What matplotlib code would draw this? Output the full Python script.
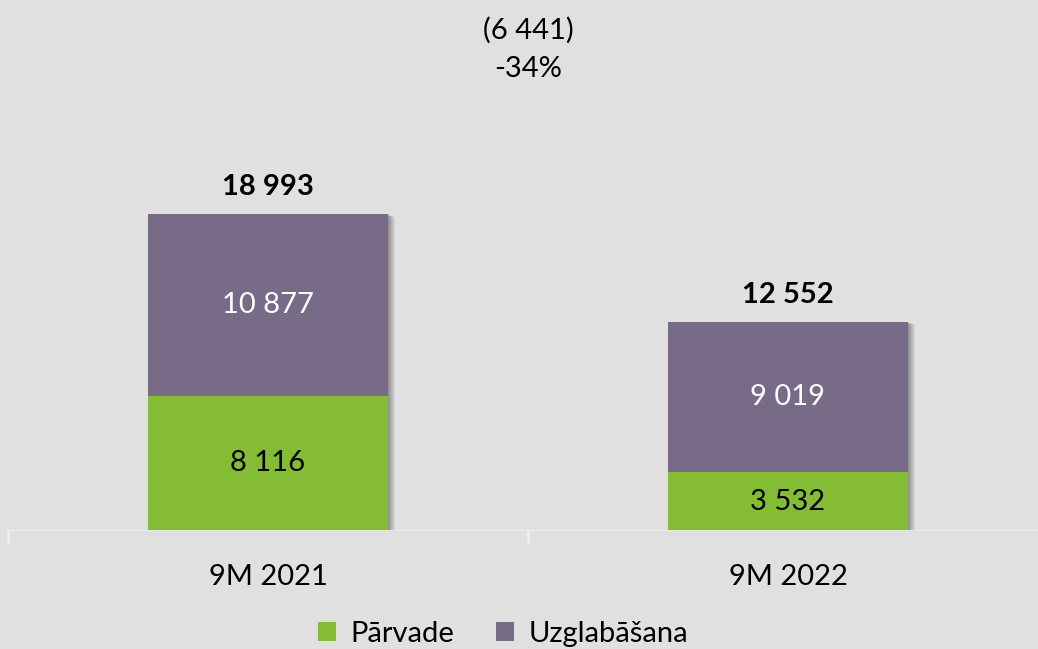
import matplotlib
matplotlib.use("Agg")
import matplotlib.pyplot as plt
from matplotlib.patches import Rectangle
import matplotlib.transforms as mtransforms
import numpy as np

categories = ["9M 2021", "9M 2022"]
parvade = [8116, 3532]
uzglabasana = [10877, 9019]
totals = [18993, 12552]
series_names = ["Pārvade", "Uzglabāšana"]
change_abs = "(6 441)"
change_pct = "-34%"

def fmt(v):
    return f"{v:,}".replace(",", " ")

plt.rcParams['font.family'] = ['Lato', 'DejaVu Sans']
W, H = 1038, 649
fig = plt.figure(figsize=(W/100, H/100), dpi=100)
bg = "#e0e0e0"
fig.patch.set_facecolor(bg)

ax = fig.add_axes([8/W, (H-531)/H, 1040/W, 531/H])
ax.set_facecolor(bg)
ax.patch.set_alpha(0)
x = np.arange(len(categories))
ax.set_xlim(-0.5, 1.5)
ax.set_ylim(0, 531/0.01669)

green = "#84bd35"
purple = "#776b87"
width = 0.46
FS = 21
b1 = ax.bar(x, parvade, width, color=green, label=series_names[0], zorder=3)
b2 = ax.bar(x, uzglabasana, width, bottom=parvade, color=purple, label=series_names[1], zorder=3)

# soft shadow: stacked translucent rectangles offset to the right/bottom
for i in range(len(x)):
    for k in range(1, 9):
        tr = mtransforms.offset_copy(ax.transData, fig=fig, x=k*0.9, y=-k*0.35, units="dots")
        r = Rectangle((x[i]-width/2, 0), width, totals[i], facecolor="#303030",
                      alpha=0.07, zorder=2, transform=tr, lw=0)
        ax.add_patch(r)

for i in range(len(x)):
    ax.text(x[i], parvade[i]/2, fmt(parvade[i]), ha="center", va="center", fontsize=FS, color="black", zorder=5)
    ax.text(x[i], parvade[i] + uzglabasana[i]/2, fmt(uzglabasana[i]), ha="center", va="center",
            fontsize=FS, color="white", zorder=5)
    ax.text(x[i], totals[i] + 1600, fmt(totals[i]), ha="center", va="center", fontsize=FS,
            fontweight="bold", color="black", zorder=5)

for s in ax.spines.values():
    s.set_visible(False)
ax.set_yticks([])
ax.set_xticks([])
ax.axhline(0, color="#eeeef2", lw=2, zorder=4)
for xt in [-0.5, 0.5, 1.5]:
    ax.plot([xt, xt], [0, -11/0.01669], color="#eeeef2", lw=2, clip_on=False, zorder=4)

for i in range(len(x)):
    ax.text(x[i], -46/0.01669, categories[i], ha="center", va="center", fontsize=FS, color="black")

fig.text(528/W, 1-30/H, change_abs, ha="center", va="center", fontsize=FS)
fig.text(528/W, 1-69/H, change_pct, ha="center", va="center", fontsize=FS)

fig.legend(handles=[b1, b2], labels=series_names, loc="center", bbox_to_anchor=(503/W, 1-634/H),
           ncol=2, frameon=False, fontsize=FS, handlelength=0.62, handleheight=0.62,
           handletextpad=0.5, columnspacing=1.4, borderpad=0)

fig.savefig("out.png", dpi=100, facecolor=bg)
